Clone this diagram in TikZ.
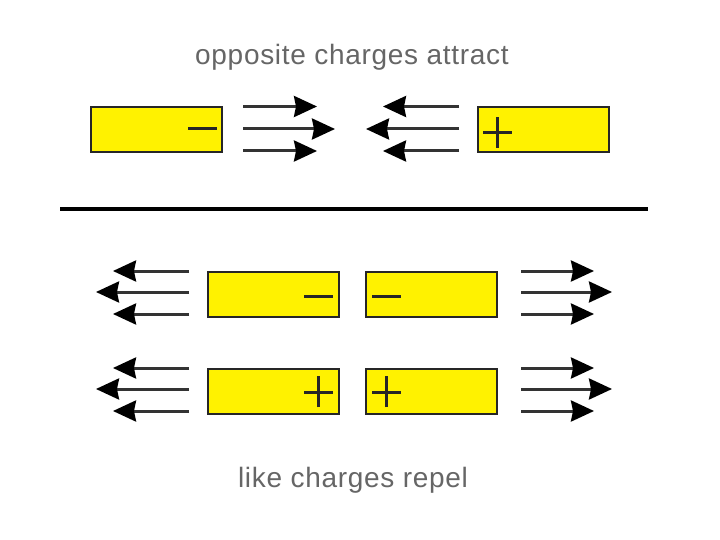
\documentclass[tikz,border=0pt]{standalone}
\usepackage{fontspec}
\setmainfont{Liberation Sans}
\usetikzlibrary{arrows.meta}
\begin{document}
\begin{tikzpicture}[x=1pt,y=-1pt,
  bar/.style={draw=black!85,line width=2pt,fill=yellow,minimum width=131pt,minimum height=45pt,inner sep=0pt,outer sep=0pt},
  sign/.style={draw=black!85,line width=3pt},
  force/.style={draw=black!80,line width=3pt,-{Stealth[length=23pt,width=21pt,inset=2pt,fill=black,color=black]}},
  caption/.style={anchor=base,text=black!60,font=\fontsize{28}{30}\selectfont\addfontfeature{LetterSpace=2.5}}]
\useasboundingbox (0,0) rectangle (720,540);
\fill[white] (0,0) rectangle (720,540);

% titles
\node[caption] (t1) at (352,65) {opposite charges attract};
\node[caption] (t2) at (353,487) {like charges repel};

% top row
\node[bar] (a) at (156.5,129.5) {};
\node[bar] (b) at (543,129.5) {};
\draw[sign] ([xshift=-34pt,yshift=0.5pt]a.east) -- ([xshift=-5pt,yshift=0.5pt]a.east);
\draw[sign] ([xshift=5.5pt,yshift=-3.5pt]b.west) -- ([xshift=34.5pt,yshift=-3.5pt]b.west);
\draw[sign] ([xshift=20pt,yshift=-18.5pt]b.west) -- ([xshift=20pt,yshift=12.5pt]b.west);

\coordinate (a1) at (243,106.5); \coordinate (a1e) at (317,106.5);
\coordinate (a2) at (243,129);   \coordinate (a2e) at (335,129);
\coordinate (a3) at (243,151);   \coordinate (a3e) at (317,151);
\draw[force] (a1) -- (a1e);
\draw[force] (a2) -- (a2e);
\draw[force] (a3) -- (a3e);
\coordinate (b1) at (459,106.5); \coordinate (b1e) at (383,106.5);
\coordinate (b2) at (459,129);   \coordinate (b2e) at (366,129);
\coordinate (b3) at (459,151);   \coordinate (b3e) at (383,151);
\draw[force] (b1) -- (b1e);
\draw[force] (b2) -- (b2e);
\draw[force] (b3) -- (b3e);

% separator
\coordinate (s1) at (60,209); \coordinate (s2) at (648,209);
\draw[line width=4pt,black] (s1) -- (s2);

% lower row 1 (negative)
\node[bar] (c) at (273.5,294) {};
\node[bar] (d) at (431.5,294) {};
\draw[sign] ([xshift=-35pt,yshift=-2pt]c.east) -- ([xshift=-6pt,yshift=-2pt]c.east);
\draw[sign] ([xshift=6pt,yshift=-2pt]d.west) -- ([xshift=35pt,yshift=-2pt]d.west);

% lower row 2 (positive)
\node[bar] (e) at (273.5,391) {};
\node[bar] (f) at (431.5,391) {};
\draw[sign] ([xshift=-35pt,yshift=-1pt]e.east) -- ([xshift=-6pt,yshift=-1pt]e.east);
\draw[sign] ([xshift=-20.5pt,yshift=-16pt]e.east) -- ([xshift=-20.5pt,yshift=15pt]e.east);
\draw[sign] ([xshift=6pt,yshift=-1pt]f.west) -- ([xshift=35pt,yshift=-1pt]f.west);
\draw[sign] ([xshift=20.5pt,yshift=-16pt]f.west) -- ([xshift=20.5pt,yshift=15pt]f.west);

% repulsion arrows
\foreach \yy/\n in {294/p,391/q}{
  \coordinate (\n l1) at (189,\yy-23); \coordinate (\n l1e) at (113,\yy-23);
  \coordinate (\n l2) at (189,\yy-2);  \coordinate (\n l2e) at (96,\yy-2);
  \coordinate (\n l3) at (189,\yy+20); \coordinate (\n l3e) at (113,\yy+20);
  \coordinate (\n r1) at (521,\yy-23); \coordinate (\n r1e) at (594,\yy-23);
  \coordinate (\n r2) at (521,\yy-2);  \coordinate (\n r2e) at (612,\yy-2);
  \coordinate (\n r3) at (521,\yy+20); \coordinate (\n r3e) at (594,\yy+20);
  \draw[force] (\n l1) -- (\n l1e);
  \draw[force] (\n l2) -- (\n l2e);
  \draw[force] (\n l3) -- (\n l3e);
  \draw[force] (\n r1) -- (\n r1e);
  \draw[force] (\n r2) -- (\n r2e);
  \draw[force] (\n r3) -- (\n r3e);
}
\end{tikzpicture}
\end{document}
